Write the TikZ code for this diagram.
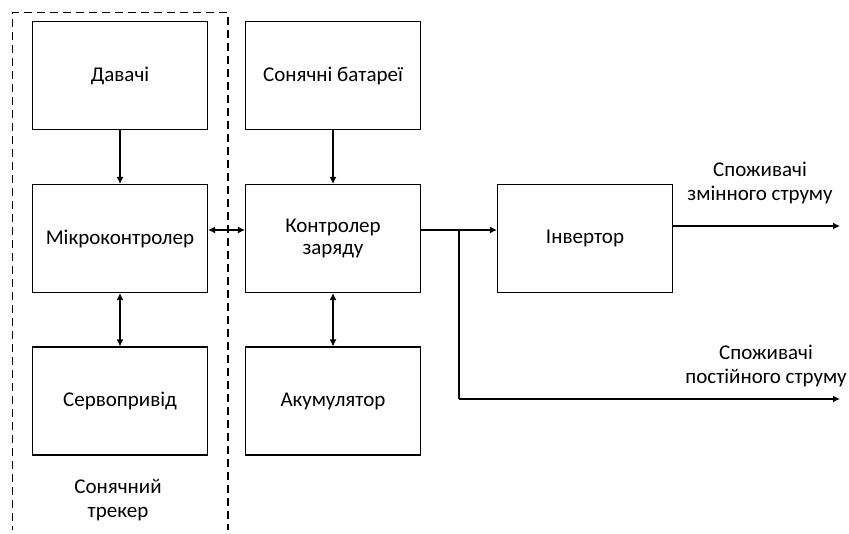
\documentclass[tikz,border=0pt]{standalone}
\usepackage{fontspec}
\setmainfont{Carlito}
\usetikzlibrary{arrows.meta}
\begin{document}
\begin{tikzpicture}[x=1pt,y=-1pt,
  blk/.style={draw,line width=1.2pt,minimum width=175pt,minimum height=108pt,inner sep=0pt,align=center,font=\fontsize{21}{22.5}\selectfont},
  lbl/.style={align=center,font=\fontsize{21}{24.5}\selectfont,inner sep=0pt},
  con/.style={line width=1.2pt,-{Latex[length=7pt,width=7pt]}},
  bicon/.style={line width=1.2pt,{Latex[length=7pt,width=7pt]}-{Latex[length=7pt,width=7pt]}}]
\useasboundingbox (0,0) rectangle (849,533);
\begin{scope}
\clip (0,0) rectangle (849,529);
\draw[line width=1.1pt,dash pattern=on 8pt off 5pt] (12.5,560) -- (12.5,12.5) -- (228,12.5) -- (228,560);
\end{scope}
\node[blk] (dav) at (120,75.5) {Давачі};
\node[blk] (mk) at (120,238.5) {Мікроконтролер};
\node[blk] (serv) at (120,401) {Сервопривід};
\node[blk] (sb) at (333,75.5) {Сонячні батареї};
\node[blk] (kz) at (333,238.5) {Контролер\\заряду};
\node[blk] (ak) at (333,401) {Акумулятор};
\node[blk] (inv) at (585,238.5) {Інвертор};
\node[lbl] (tr) at (118,500) {Сонячний\\трекер};
\node[lbl] (ac) at (760,183) {Споживачі\\змінного струму};
\node[lbl] (dc) at (766,366) {Споживачі\\постійного струму};
\coordinate (acend) at (840,226);
\coordinate (br) at (459,230);
\coordinate (brd) at (459,399);
\coordinate (dcend) at (840,399);
\draw[con] (dav) -- (mk);
\draw[bicon] (mk) -- (serv);
\draw[bicon] (mk.east |- 0,230) -- (kz.west |- 0,230);
\draw[con] (sb) -- (kz);
\draw[bicon] (kz) -- (ak);
\draw[con] (kz.east |- br) -- (inv.west |- br);
\draw[line width=1.2pt] (br) -- (brd);
\draw[con] (brd) -- (dcend);
\draw[con] (inv.east |- acend) -- (acend);
\end{tikzpicture}
\end{document}
